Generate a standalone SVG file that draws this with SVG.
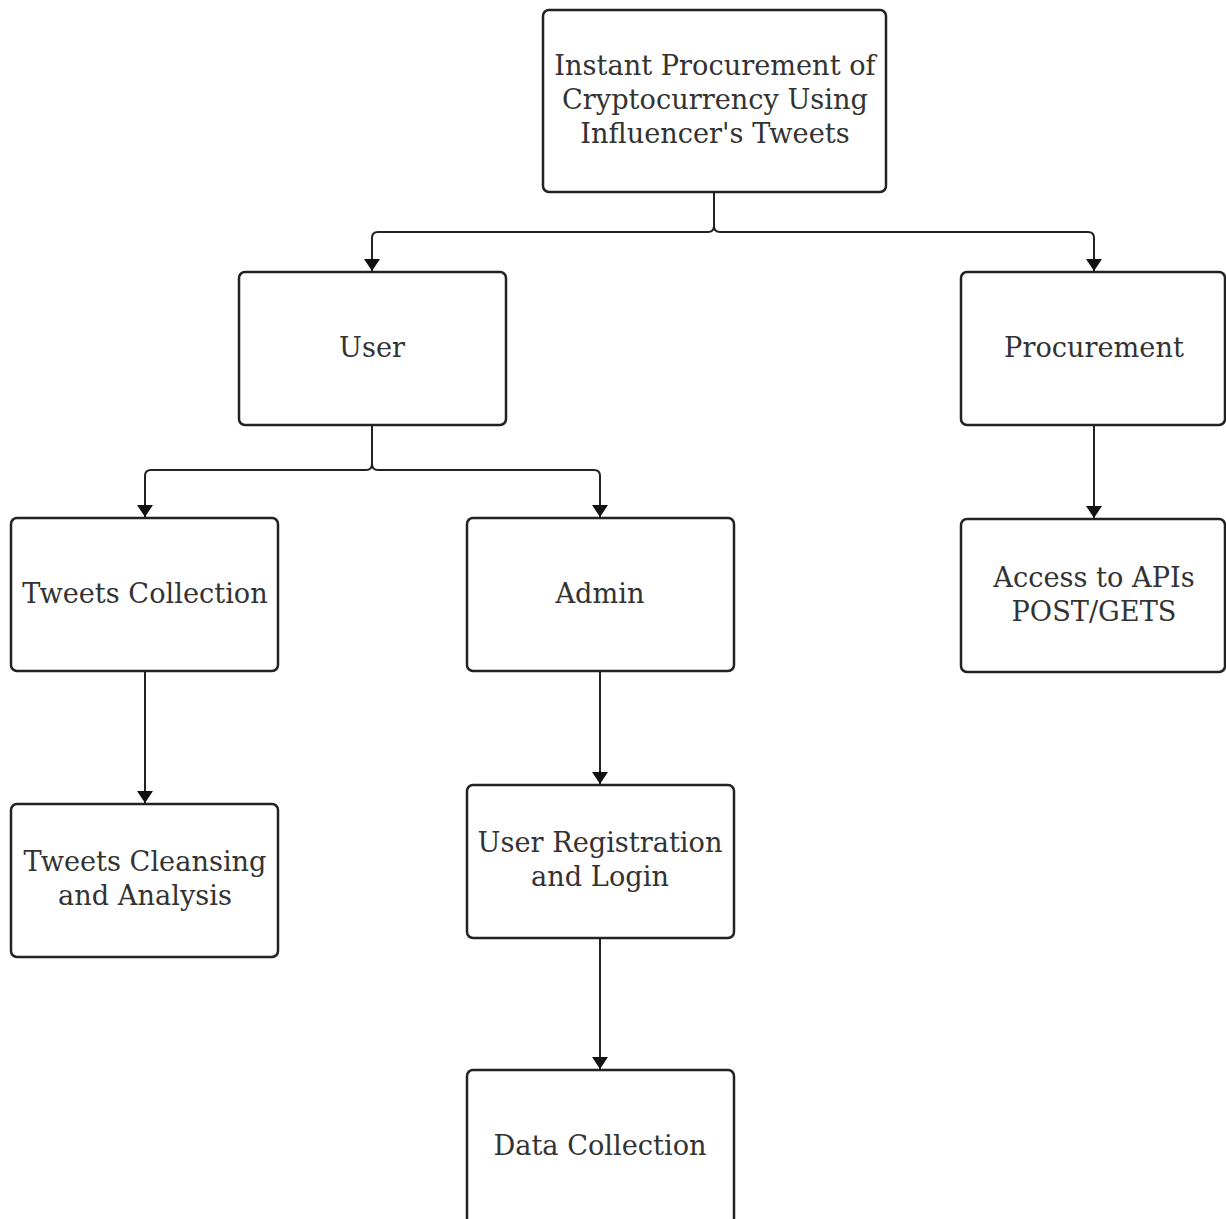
<svg xmlns="http://www.w3.org/2000/svg" width="1226" height="1219" viewBox="0 0 1226 1219">
<style>
.box{fill:#fff;stroke:#222;stroke-width:2.5}
.t{font-family:"DejaVu Serif","Liberation Serif",serif;font-size:27.2px;fill:#333;text-anchor:middle}
.c{fill:none;stroke:#222;stroke-width:2}
</style>
<defs>
<marker id="ah" viewBox="0 0 12 16" refX="12" refY="8" markerWidth="12" markerHeight="16" markerUnits="userSpaceOnUse" orient="auto">
<path d="M0,0 L12,8 L0,16 Z" fill="#111"/>
</marker>
</defs>
<rect width="1226" height="1219" fill="#fff"/>
<g id="connectors">
<path class="c" d="M714,192 V226 Q714,232 708,232 H378 Q372,232 372,238 V271" marker-end="url(#ah)"/>
<path class="c" d="M714,192 V226 Q714,232 720,232 H1088 Q1094,232 1094,238 V271" marker-end="url(#ah)"/>
<path class="c" d="M372,425 V464 Q372,470 366,470 H151 Q145,470 145,476 V517" marker-end="url(#ah)"/>
<path class="c" d="M372,425 V464 Q372,470 378,470 H594 Q600,470 600,476 V517" marker-end="url(#ah)"/>
<path class="c" d="M145,671 V803" marker-end="url(#ah)"/>
<path class="c" d="M600,671 V784" marker-end="url(#ah)"/>
<path class="c" d="M1094,425 V518" marker-end="url(#ah)"/>
<path class="c" d="M600,938 V1069" marker-end="url(#ah)"/>
</g>
<g id="root">
<rect class="box" x="543" y="10" width="343" height="182" rx="6"/>
<text class="t" x="715" y="75">Instant Procurement of</text>
<text class="t" x="715" y="109">Cryptocurrency Using</text>
<text class="t" x="715" y="143">Influencer's Tweets</text>
</g>
<g id="user">
<rect class="box" x="239" y="272" width="267" height="153" rx="6"/>
<text class="t" x="372" y="357">User</text>
</g>
<g id="procurement">
<rect class="box" x="961" y="272" width="264" height="153" rx="6"/>
<text class="t" x="1094" y="357">Procurement</text>
</g>
<g id="tweets-collection">
<rect class="box" x="11" y="518" width="267" height="153" rx="6"/>
<text class="t" x="145" y="603">Tweets Collection</text>
</g>
<g id="admin">
<rect class="box" x="467" y="518" width="267" height="153" rx="6"/>
<text class="t" x="600" y="603">Admin</text>
</g>
<g id="access-apis">
<rect class="box" x="961" y="519" width="264" height="153" rx="6"/>
<text class="t" x="1094" y="587">Access to APIs</text>
<text class="t" x="1094" y="621">POST/GETS</text>
</g>
<g id="tweets-cleansing">
<rect class="box" x="11" y="804" width="267" height="153" rx="6"/>
<text class="t" x="145" y="871">Tweets Cleansing</text>
<text class="t" x="145" y="905">and Analysis</text>
</g>
<g id="user-registration">
<rect class="box" x="467" y="785" width="267" height="153" rx="6"/>
<text class="t" x="600" y="852">User Registration</text>
<text class="t" x="600" y="886">and Login</text>
</g>
<g id="data-collection">
<rect class="box" x="467" y="1070" width="267" height="160" rx="6"/>
<text class="t" x="600" y="1155">Data Collection</text>
</g>
</svg>
